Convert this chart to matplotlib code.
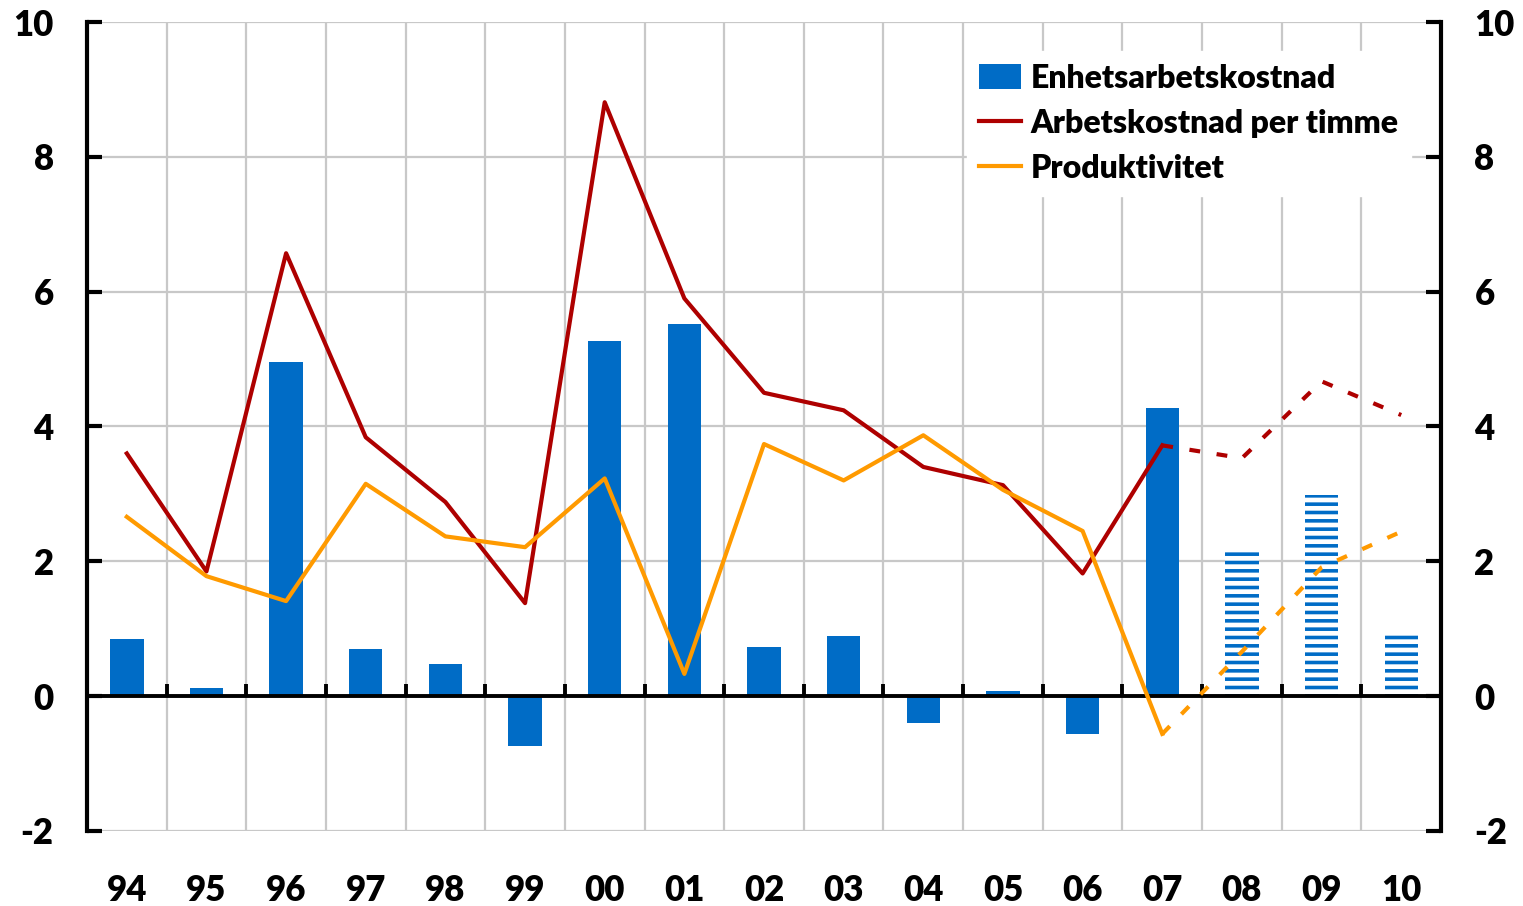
import numpy as np
import matplotlib
matplotlib.use("Agg")
import matplotlib.pyplot as plt
from matplotlib.patches import Patch
from matplotlib.lines import Line2D

# data
years = ["94", "95", "96", "97", "98", "99", "00", "01", "02", "03",
         "04", "05", "06", "07", "08", "09", "10"]
enhetsarbetskostnad = [0.85, 0.12, 4.96, 0.70, 0.47, -0.74, 5.27, 5.52, 0.73,
                       0.89, -0.40, 0.07, -0.56, 4.27, 2.20, 2.98, 0.93]
arbetskostnad_timme = [3.60, 1.85, 6.57, 3.84, 2.88, 1.38, 8.81, 5.90, 4.50,
                       4.24, 3.40, 3.13, 1.82, 3.72, 3.53, 4.67, 4.17]
produktivitet = [2.66, 1.78, 1.41, 3.15, 2.37, 2.21, 3.23, 0.33, 3.74,
                 3.20, 3.87, 3.06, 2.45, -0.56, 0.66, 1.91, 2.44]
n_utfall = 14  # 94-07 utfall, 08-10 prognos

blue = "#006CC6"
red = "#AE0000"
orange = "#FF9A00"
grid = "#C8C8C8"

plt.rcParams["font.family"] = ["Lato", "DejaVu Sans"]
plt.rcParams["font.weight"] = "heavy"
plt.rcParams["hatch.linewidth"] = 2.6

fig = plt.figure(figsize=(15.23, 9.06), dpi=100)
ax = fig.add_axes([0.0571, 0.0828, 0.8891, 0.8929])

x = np.arange(len(years))

# staplar, utfall helfyllda och prognos randiga
ax.bar(x[:n_utfall], enhetsarbetskostnad[:n_utfall], width=0.42,
       color=blue, zorder=2)
ax.bar(x[n_utfall:], enhetsarbetskostnad[n_utfall:], width=0.42,
       facecolor="white", edgecolor=blue, linewidth=0, hatch="--", zorder=2)

# linjer, heldragna för utfall och streckade för prognos
lw = 3
ax.plot(x[:n_utfall], arbetskostnad_timme[:n_utfall], color=red, lw=lw, zorder=4)
ax.plot(x[n_utfall - 1:], arbetskostnad_timme[n_utfall - 1:], color=red, lw=lw,
        dashes=(2.6, 4.0), zorder=4)
ax.plot(x[:n_utfall], produktivitet[:n_utfall], color=orange, lw=lw, zorder=4)
ax.plot(x[n_utfall - 1:], produktivitet[n_utfall - 1:], color=orange, lw=lw,
        dashes=(2.6, 4.0), zorder=4)

# nollinje med små streck mellan åren
ax.axhline(0, color="black", lw=2.8, zorder=3)
gransar = x[:-1] + 0.5
ax.vlines(gransar, 0, 0.18, color="black", lw=2.8, zorder=3)

ax.set_xlim(-0.5, len(years) - 0.5)
ax.set_ylim(-2, 10)
ax.set_yticks(range(-2, 11, 2))
ax.set_yticklabels([str(v) for v in range(-2, 11, 2)])
ax.set_xticks(x)
ax.set_xticklabels(years)

# rutnät
for v in range(-2, 11, 2):
    ax.axhline(v, color=grid, lw=1.6, zorder=0)
for g in gransar:
    ax.axvline(g, color=grid, lw=1.6, zorder=0)

ax.spines["top"].set_visible(False)
ax.spines["bottom"].set_visible(False)
ax.spines["left"].set_linewidth(3)
ax.spines["right"].set_linewidth(3)

ax.tick_params(axis="x", length=0, pad=31, labelsize=25)
ax.tick_params(axis="y", direction="in", length=11, width=3, labelsize=25,
               pad=24, right=True, labelright=True)

handles = [Patch(facecolor=blue),
           Line2D([0], [0], color=red, lw=lw),
           Line2D([0], [0], color=orange, lw=lw)]
labels = ["Enhetsarbetskostnad", "Arbetskostnad per timme", "Produktivitet"]
leg = ax.legend(handles, labels, loc="upper right", bbox_to_anchor=(0.985, 0.976),
                fontsize=23, frameon=True, fancybox=False, handlelength=1.3,
                handleheight=0.8, handletextpad=0.3, labelspacing=0.5,
                borderpad=0.4, borderaxespad=0.3)
leg.get_frame().set_edgecolor("white")
leg.get_frame().set_facecolor("white")
leg.get_frame().set_alpha(1)
leg.set_zorder(5)

fig.savefig("out.png", dpi=100)
